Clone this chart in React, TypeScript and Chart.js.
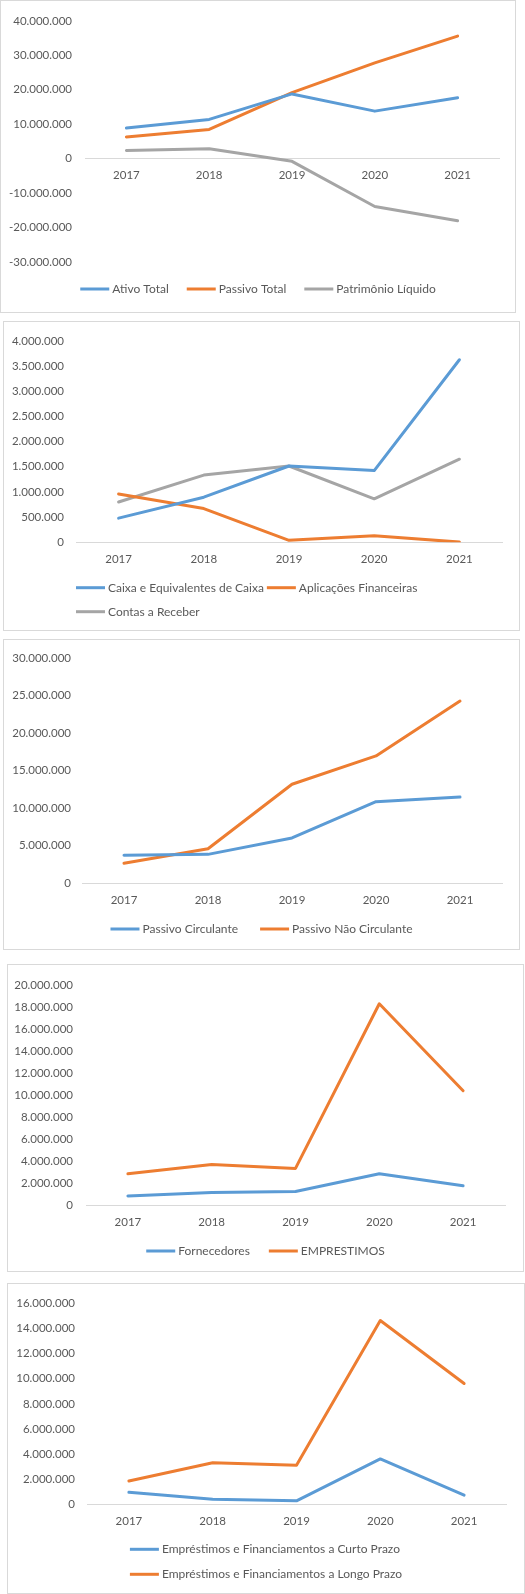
import React, { useEffect, useRef } from 'react';
import { Chart, registerables } from 'chart.js';

Chart.register(...registerables);

// ---------- DATA ----------
const years = ['2017', '2018', '2019', '2020', '2021'];

// Chart 1
const ativoTotal = [8900000, 11400000, 18800000, 13800000, 17700000];
const passivoTotal = [6300000, 8500000, 19200000, 27800000, 35600000];
const patrimonioLiquido = [2400000, 2850000, -770000, -13900000, -18000000];
const axis1 = [-30000000, 40000000, 10000000];

// Chart 2
const caixaEquivalentes = [480000, 896000, 1516000, 1425000, 3625000];
const aplicacoesFinanceiras = [960000, 670000, 40000, 128000, 5000];
const contasReceber = [800000, 1335000, 1515000, 863000, 1650000];
const axis2 = [0, 4000000, 500000];

// Chart 3
const passivoCirculante = [3720000, 3850000, 6040000, 10860000, 11470000];
const passivoNaoCirculante = [2670000, 4600000, 13180000, 16950000, 24260000];
const axis3 = [0, 30000000, 5000000];

// Chart 4
const fornecedores = [875000, 1200000, 1280000, 2890000, 1810000];
const emprestimos = [2890000, 3730000, 3380000, 18290000, 10410000];
const axis4 = [0, 20000000, 2000000];

// Chart 5
const empCurtoPrazo = [980000, 440000, 310000, 3630000, 750000];
const empLongoPrazo = [1880000, 3320000, 3120000, 14600000, 9610000];
const axis5 = [0, 16000000, 2000000];

// ---------- STYLE ----------
const BLUE = '#5B9BD5';
const ORANGE = '#ED7D31';
const GRAY = '#A5A5A5';
const TEXT = '#595959';
const LINE = '#D9D9D9';
const FONT = 'Lato';
const TICK_SIZE = 11.5;
const LEGEND_SIZE = 12;
const SWATCH = 29;
const TEXT_GAP = 3;

const fmt = (v: number) => {
  const s = Math.abs(Math.round(v)).toString().replace(/\B(?=(\d{3})+(?!\d))/g, '.');
  return (v < 0 ? '-' : '') + s;
};

type Series = { label: string; data: number[]; color: string };
type LegendSpec = { rows: number[][]; rowY: number[]; startX?: number; centerRows?: boolean; gap: number };
type Spec = {
  box: { left: number; top: number; width: number; height: number };
  series: Series[];
  axis: number[];
  plot: { left: number; right: number; top: number; bottom: number };
  zeroAxis: boolean;
  yGap: number;
  xPad: number;
  legend: LegendSpec;
};

const XH = 30;

const specs: Spec[] = [
  {
    box: { left: 0, top: 0, width: 516, height: 313 },
    series: [
      { label: 'Ativo Total', data: ativoTotal, color: BLUE },
      { label: 'Passivo Total', data: passivoTotal, color: ORANGE },
      { label: 'Patrimônio Líquido', data: patrimonioLiquido, color: GRAY },
    ],
    axis: axis1,
    plot: { left: 84, right: 498, top: 14.7, bottom: 261 },
    zeroAxis: true,
    yGap: 13,
    xPad: 10,
    legend: { rows: [[0, 1, 2]], rowY: [288], centerRows: true, gap: 18 },
  },
  {
    box: { left: 3, top: 321, width: 517, height: 310 },
    series: [
      { label: 'Caixa e Equivalentes de Caixa', data: caixaEquivalentes, color: BLUE },
      { label: 'Aplicações Financeiras', data: aplicacoesFinanceiras, color: ORANGE },
      { label: 'Contas a Receber', data: contasReceber, color: GRAY },
    ],
    axis: axis2,
    plot: { left: 72, right: 498, top: 13.7, bottom: 220.3 },
    zeroAxis: false,
    yGap: 12,
    xPad: 10,
    legend: { rows: [[0, 1], [2]], rowY: [265.7, 289.7], startX: 72, gap: 3 },
  },
  {
    box: { left: 3, top: 639, width: 517, height: 311 },
    series: [
      { label: 'Passivo Circulante', data: passivoCirculante, color: BLUE },
      { label: 'Passivo Não Circulante', data: passivoNaoCirculante, color: ORANGE },
    ],
    axis: axis3,
    plot: { left: 78, right: 498, top: 15, bottom: 243.3 },
    zeroAxis: false,
    yGap: 11,
    xPad: 10,
    legend: { rows: [[0, 1]], rowY: [289], centerRows: true, gap: 22 },
  },
  {
    box: { left: 7, top: 964, width: 517, height: 308 },
    series: [
      { label: 'Fornecedores', data: fornecedores, color: BLUE },
      { label: 'EMPRESTIMOS', data: emprestimos, color: ORANGE },
    ],
    axis: axis4,
    plot: { left: 78, right: 497, top: 12, bottom: 240.7 },
    zeroAxis: false,
    yGap: 13,
    xPad: 10,
    legend: { rows: [[0, 1]], rowY: [286], centerRows: true, gap: 19 },
  },
  {
    box: { left: 7, top: 1283, width: 518, height: 311 },
    series: [
      { label: 'Empréstimos e Financiamentos a Curto Prazo', data: empCurtoPrazo, color: BLUE },
      { label: 'Empréstimos e Financiamentos a Longo Prazo', data: empLongoPrazo, color: ORANGE },
    ],
    axis: axis5,
    plot: { left: 79, right: 498, top: 13.7, bottom: 220.7 },
    zeroAxis: false,
    yGap: 12,
    xPad: 10,
    legend: { rows: [[0], [1]], rowY: [265.3, 290.3], gap: 0 },
  },
];

function LineChart({ spec }: { spec: Spec }) {
  const ref = useRef<HTMLCanvasElement | null>(null);
  const cw = spec.box.width - 2;
  const ch = spec.box.height - 2;

  useEffect(() => {
    if (!ref.current) return;
    const lg = spec.legend;
    const legendPlugin = {
      id: 'excelLegend',
      afterDraw(chart: any) {
        const ctx = chart.ctx as CanvasRenderingContext2D;
        const ds = chart.data.datasets;
        ctx.save();
        ctx.font = `${LEGEND_SIZE}px ${FONT}`;
        ctx.textBaseline = 'middle';
        ctx.textAlign = 'left';
        const rowWidths = lg.rows.map((row) =>
          row.reduce(
            (acc, i, k) => acc + SWATCH + TEXT_GAP + ctx.measureText(ds[i].label).width + (k > 0 ? lg.gap : 0),
            0
          )
        );
        const maxW = Math.max(...rowWidths);
        const blockX = lg.startX !== undefined ? lg.startX : (chart.width - maxW) / 2;
        lg.rows.forEach((row, r) => {
          let x = lg.centerRows ? (chart.width - rowWidths[r]) / 2 : blockX;
          const y = lg.rowY[r];
          row.forEach((i) => {
            ctx.strokeStyle = ds[i].borderColor;
            ctx.lineWidth = 3;
            ctx.lineCap = 'butt';
            ctx.beginPath();
            ctx.moveTo(x, y);
            ctx.lineTo(x + SWATCH, y);
            ctx.stroke();
            x += SWATCH + TEXT_GAP;
            ctx.fillStyle = TEXT;
            ctx.fillText(ds[i].label, x, y);
            x += ctx.measureText(ds[i].label).width + lg.gap;
          });
        });
        ctx.restore();
      },
    };

    const [min, max, step] = spec.axis;
    const chart = new Chart(ref.current, {
      type: 'line',
      data: {
        labels: years,
        datasets: spec.series.map((s) => ({
          label: s.label,
          data: s.data,
          borderColor: s.color,
          backgroundColor: s.color,
          borderWidth: 3,
          pointRadius: 0,
          pointHoverRadius: 0,
          tension: 0,
          fill: false,
          borderCapStyle: 'round',
          borderJoinStyle: 'round',
        })),
      },
      options: {
        responsive: false,
        animation: false,
        devicePixelRatio: 1,
        events: [],
        layout: {
          padding: {
            left: 0,
            right: cw - spec.plot.right,
            top: spec.plot.top,
            bottom: spec.zeroAxis ? ch - spec.plot.bottom : ch - spec.plot.bottom - XH,
          },
        },
        plugins: {
          legend: { display: false },
          tooltip: { enabled: false },
        },
        scales: {
          x: {
            type: 'category',
            offset: true,
            position: spec.zeroAxis ? ({ y: 0 } as any) : 'bottom',
            grid: { display: false, drawTicks: false },
            border: { display: true, color: LINE, width: 1 },
            ticks: {
              color: TEXT,
              font: { family: FONT, size: TICK_SIZE },
              padding: spec.xPad,
              maxRotation: 0,
              autoSkip: false,
            },
            afterFit: (s: any) => {
              if (!spec.zeroAxis) s.height = XH;
            },
          },
          y: {
            type: 'linear',
            min,
            max,
            grid: { display: false, drawTicks: false },
            border: { display: false },
            ticks: {
              stepSize: step,
              color: TEXT,
              font: { family: FONT, size: TICK_SIZE },
              padding: spec.yGap,
              callback: (v: any) => fmt(Number(v)),
            },
            afterFit: (s: any) => {
              s.width = spec.plot.left;
            },
          },
        },
      } as any,
      plugins: [legendPlugin],
    });
    return () => chart.destroy();
  }, [spec]);

  return (
    <div
      style={{
        position: 'absolute',
        left: spec.box.left,
        top: spec.box.top,
        width: spec.box.width,
        height: spec.box.height,
        boxSizing: 'border-box',
        border: `1px solid ${LINE}`,
        background: '#fff',
      }}
    >
      <canvas ref={ref} width={cw} height={ch} style={{ display: 'block', width: cw, height: ch }} />
    </div>
  );
}

export default function App() {
  return (
    <div style={{ position: 'absolute', left: 0, top: 0, width: 525, height: 1594, background: '#fff', overflow: 'hidden' }}>
      {specs.map((s, i) => (
        <LineChart key={i} spec={s} />
      ))}
    </div>
  );
}
